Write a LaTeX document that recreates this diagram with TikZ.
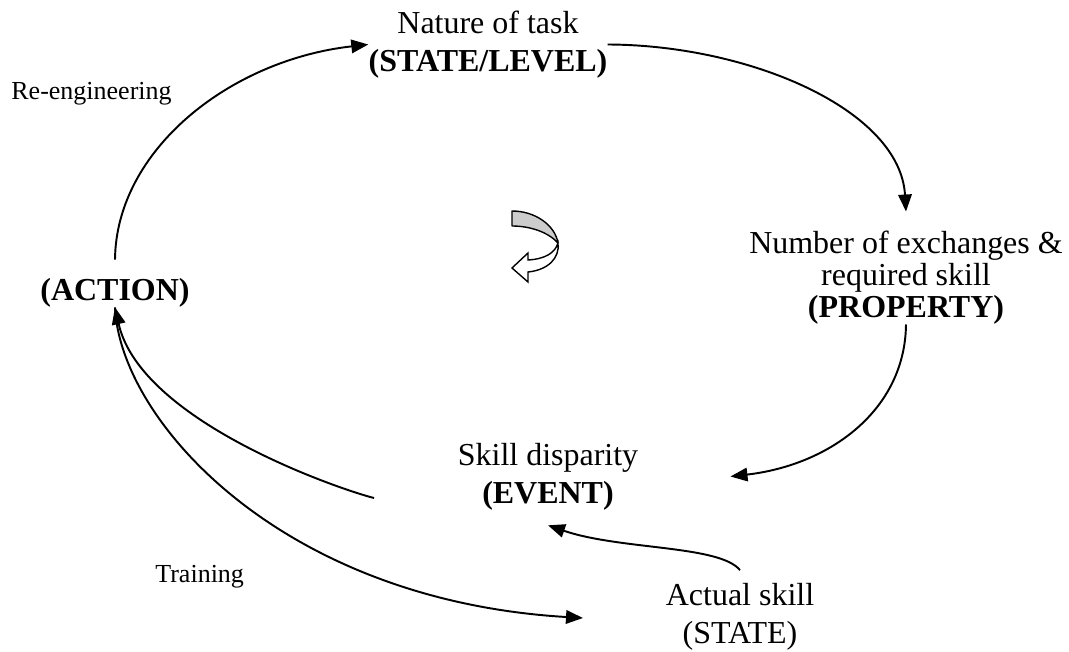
\documentclass[tikz,border=0pt]{standalone}
\usepackage{fontspec}
\setmainfont{Liberation Serif}
\usetikzlibrary{arrows.meta}

\tikzset{
  cyc/.style={-{Triangle[length=0.34cm,width=0.27cm]}, line width=1.1pt},
  lbl/.style={align=center, inner sep=0pt, font=\fontsize{18.2}{21.6}\selectfont},
  small/.style={inner sep=0pt, font=\fontsize{14.8}{17}\selectfont}
}

\begin{document}
\begin{tikzpicture}[x=0.02cm, y=-0.02cm]
\useasboundingbox (0,0) rectangle (1069,652);

%%%%%%%%%%%%%%%%%%%%%%%%%%%%%%%
\node [lbl] (task) at (488,44.5) {Nature of task\\ \textbf{(STATE/LEVEL)}};
\node [lbl, font=\fontsize{18.2}{18.2}\selectfont] (prop) at (906,277.5)
  {Number of exchanges \&\\ required skill\\ \textbf{(PROPERTY)}};
\node [lbl] (action) at (115,292.5) {\textbf{(ACTION)}};
\node [lbl] (event) at (548,476.5) {Skill disparity\\ \textbf{(EVENT)}};
\node [lbl] (actual) at (740,617) {Actual skill\\ (STATE)};

\node [small, anchor=base east] (reeng) at (172,100) {{Re-engineering}};
\node [small, anchor=base west] (train) at (155,582) {{Training}};

%%%%%%%%%%%%%%%%%%%%%%%%%%%%%%%
\coordinate (actiontop) at ([yshift=0.36cm]action.north);
\coordinate (propin) at ([yshift=0.38cm]prop.north);
\coordinate (eventin) at ([xshift=1.84cm]event.east);
\coordinate (eventlow) at ([yshift=-0.3cm]event.south);
\coordinate (actualtop) at ([yshift=0.26cm]actual.north);
\coordinate (eventout) at (374,498);
\coordinate (actualin) at (583,618);

\draw[cyc] (actiontop) .. controls (116,150) and (230,60) .. (task.west);
\draw[cyc] (task.east) .. controls (750,45) and (900,110) .. (propin);
\draw[cyc] (prop.south) .. controls (905,410) and (830,465) .. (eventin);
\draw[cyc] (actualtop) .. controls (720,545) and (620,550) .. (eventlow);
\draw[cyc] (eventout) .. controls (335,488) and (140,420) .. (action.south);
\draw[cyc] (action.south) .. controls (120,420) and (280,600) .. (actualin);

%%%%%%%%%%%%%%%%%%%%%%%%%%%%%%%
% turning arrow in the middle
\filldraw[fill=gray!40, line width=0.8pt, line join=round]
  (512,211) .. controls (535,211) and (555,225) .. (558,243)
  .. controls (548,232) and (530,226) .. (512,226) -- cycle;
\filldraw[fill=white, line width=0.8pt, line join=miter]
  (558,243) .. controls (555,253) and (545,259) .. (528,260)
  -- (528,253) -- (512,268) -- (528,282) -- (528,272)
  .. controls (548,270) and (560,258) .. (558,243) -- cycle;
\end{tikzpicture}
\end{document}
